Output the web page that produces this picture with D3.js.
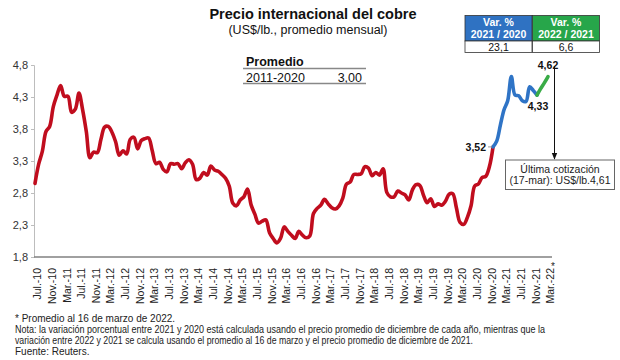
<!DOCTYPE html>
<html>
<head>
<meta charset="utf-8">
<script src="https://cdn.jsdelivr.net/npm/d3@7"></script>
<style>
  body { margin: 0; background: #fff; }
  svg { font-family: "Liberation Sans", Arial, sans-serif; }
</style>
</head>
<body>
<svg id="chart" width="620" height="360"></svg>
<script>
// monthly average copper price, Jul-10 .. Mar-22 (US$/lb)
const prices = [
  2.95, 3.25, 3.45, 3.76, 3.84, 4.15,                               // 2010 jul-dec
  4.33, 4.48, 4.31, 4.31, 4.06, 4.11, 4.36, 4.10, 3.76, 3.35, 3.44, 3.43, // 2011
  3.64, 3.83, 3.84, 3.75, 3.60, 3.39, 3.46, 3.41, 3.64, 3.67, 3.49, 3.62, // 2012
  3.65, 3.66, 3.46, 3.26, 3.28, 3.17, 3.13, 3.26, 3.25, 3.26, 3.18, 3.27, // 2013
  3.32, 3.25, 3.01, 3.03, 3.12, 3.08, 3.22, 3.16, 3.14, 3.09, 3.03, 2.91, // 2014
  2.64, 2.60, 2.69, 2.74, 2.86, 2.61, 2.47, 2.33, 2.36, 2.38, 2.18, 2.09, // 2015
  2.02, 2.09, 2.27, 2.20, 2.14, 2.09, 2.20, 2.14, 2.10, 2.13, 2.48, 2.56, // 2016
  2.61, 2.70, 2.63, 2.57, 2.55, 2.60, 2.72, 2.94, 2.97, 3.09, 3.09, 3.10, // 2017
  3.21, 3.19, 3.07, 3.12, 3.08, 3.18, 2.81, 2.74, 2.74, 2.83, 2.80, 2.77, // 2018
  2.69, 2.85, 2.93, 2.92, 2.77, 2.65, 2.71, 2.59, 2.63, 2.61, 2.67, 2.78, // 2019
  2.79, 2.57, 2.34, 2.31, 2.42, 2.60, 2.91, 2.94, 3.04, 3.06, 3.21, 3.52, // 2020
  3.61, 3.86, 4.10, 4.24, 4.62, 4.33, 4.32, 4.24, 4.23, 4.46, 4.40, 4.33, // 2021
  4.43, 4.52, 4.62                                                  // 2022 (mar = avg al 16)
];
const mesNames = ["Ene.","Feb.","Mar.","Abr.","May.","Jun.","Jul.","Ago.","Sep.","Oct.","Nov.","Dic."];
const months = prices.map((d, i) => {
  const m = (6 + i) % 12, y = 10 + Math.floor((6 + i) / 12);
  return mesNames[m] + "-" + y;
});
const tickLabels = ["Jul.-10","Nov.-10","Mar.-11","Jul.-11","Nov.-11","Mar.-12","Jul.-12","Nov.-12",
  "Mar.-13","Jul.-13","Nov.-13","Mar.-14","Jul.-14","Nov.-14","Mar.-15","Jul.-15","Nov.-15",
  "Mar.-16","Jul.-16","Nov.-16","Mar.-17","Jul.-17","Nov.-17","Mar.-18","Jul.-18","Nov.-18",
  "Mar.-19","Jul.-19","Nov.-19","Mar.-20","Jul.-20","Nov.-20","Mar.-21","Jul.-21","Nov.-21","Mar.-22"];
const yTicks = [1.8, 2.3, 2.8, 3.3, 3.8, 4.3, 4.8];
const segments = [
  {name: "hasta 2020", from: "Jul.-10", to: "Dic.-20", color: "#c00d1e"},
  {name: "2021", from: "Dic.-20", to: "Dic.-21", color: "#2f74c6"},
  {name: "2022", from: "Dic.-21", to: "Mar.-22", color: "#3aac47"}
];
const varHeaders = [["Var. %", "2021 / 2020"], ["Var. %", "2022 / 2021"]];
const varValues = ["23,1", "6,6"];
const varColors = ["#2f72c2", "#27a64a"];
const promedio = {periodo: "2011-2020", valor: "3,00"};
const notas = [
  "* Promedio al 16 de marzo de 2022.",
  "Nota: la variación porcentual entre 2021 y 2020 está calculada usando el precio promedio de diciembre de cada año, mientras que la",
  "variación entre 2022 y 2021 se calcula usando el promedio al 16 de marzo y el precio promedio de diciembre de 2021.",
  "Fuente: Reuters."
];

const svg = d3.select("#chart");
const fmt = v => d3.format(".2f")(v).replace(".", ",");

const x = d3.scalePoint().domain(months).range([35, 548]);
const y = d3.scaleLinear().domain([1.8, 4.8]).range([257, 65]);

// titles
svg.append("text").attr("x", 313).attr("y", 19).attr("text-anchor", "middle")
  .attr("font-size", 14.5).attr("font-weight", "bold").attr("fill", "#111")
  .text("Precio internacional del cobre");
svg.append("text").attr("x", 308).attr("y", 34).attr("text-anchor", "middle")
  .attr("font-size", 12.5).attr("fill", "#111")
  .text("(US$/lb., promedio mensual)");

// y axis
const yAxis = svg.append("g").attr("transform", "translate(34,0)")
  .call(d3.axisLeft(y).tickValues(yTicks).tickSize(3).tickFormat(d => d3.format(".1f")(d).replace(".", ",")));
yAxis.select(".domain").attr("stroke", "#bdbdbd");
yAxis.selectAll(".tick line").attr("stroke", "#bdbdbd");
yAxis.selectAll(".tick text").attr("font-size", 11).attr("fill", "#333").attr("x", -6)
  .attr("font-family", "Liberation Sans, Arial, sans-serif");

// x axis
const xAxis = svg.append("g").attr("transform", "translate(0,257)")
  .call(d3.axisBottom(x).tickValues(months.filter((m, i) => i % 4 === 0)).tickSize(0)
    .tickFormat((d, i) => tickLabels[i]));
xAxis.select(".domain").attr("stroke", "#808080").attr("stroke-width", 1.3)
  .attr("d", "M34,0H552");
xAxis.selectAll(".tick text")
  .attr("font-size", 10.5).attr("fill", "#222")
  .attr("font-family", "Liberation Sans, Arial, sans-serif")
  .attr("text-anchor", "end").attr("transform", "rotate(-90)")
  .attr("x", -11).attr("y", 2).attr("dy", "0.35em");
svg.append("text").attr("x", x("Mar.-22") + 3).attr("y", 270).attr("font-size", 10).attr("fill", "#222").text("*");

// lines
const line = d3.line().x(d => x(d.m)).y(d => y(d.v)).curve(d3.curveCatmullRom.alpha(0.5));
const pts = months.map((m, i) => ({m: m, v: prices[i]}));
segments.forEach(s => {
  const a = months.indexOf(s.from), b = months.indexOf(s.to);
  svg.append("path").datum(pts.slice(a, b + 1))
    .attr("d", line).attr("fill", "none").attr("stroke", s.color)
    .attr("stroke-width", 3.6).attr("stroke-linejoin", "round").attr("stroke-linecap", "round");
});

// point labels
const lbl = (m, dx, dy, anchor) => svg.append("text")
  .attr("x", x(m) + dx).attr("y", y(prices[months.indexOf(m)]) + dy)
  .attr("text-anchor", anchor).attr("font-size", 10.5).attr("font-weight", "bold").attr("fill", "#111")
  .text(fmt(prices[months.indexOf(m)]));
lbl("Dic.-20", -7, 4, "end");
svg.append("line").attr("x1", x("Dic.-20") - 5).attr("x2", x("Dic.-20") - 1)
  .attr("y1", y(3.52)).attr("y2", y(3.52)).attr("stroke", "#999");
lbl("Dic.-21", 1, 15, "middle");
lbl("Mar.-22", 0, -8, "middle");

// arrow + box
svg.append("defs").append("marker").attr("id", "arr").attr("viewBox", "0 0 10 10")
  .attr("refX", 9).attr("refY", 5).attr("markerWidth", 7).attr("markerHeight", 7).attr("orient", "auto")
  .append("path").attr("d", "M0,1L10,5L0,9Z").attr("fill", "#111");
svg.append("line").attr("x1", 554.5).attr("x2", 554.5).attr("y1", 66).attr("y2", 159)
  .attr("stroke", "#111").attr("stroke-width", 1).attr("marker-end", "url(#arr)");
svg.append("rect").attr("x", 505.5).attr("y", 160).attr("width", 109).attr("height", 29.5)
  .attr("fill", "#fff").attr("stroke", "#666").attr("stroke-width", 1);
svg.append("text").attr("x", 560).attr("y", 173).attr("text-anchor", "middle").attr("font-size", 10.5)
  .attr("fill", "#222").text("Última cotización");
svg.append("text").attr("x", 560).attr("y", 184).attr("text-anchor", "middle").attr("font-size", 10.5)
  .attr("fill", "#222").text("(17-mar): US$/lb.4,61");

// variation table
const tx = [465, 532.5], tw = 67;
varHeaders.forEach((h, i) => {
  svg.append("rect").attr("x", tx[i]).attr("y", 15.5).attr("width", tw).attr("height", 25.5)
    .attr("fill", varColors[i]).attr("stroke", "#333").attr("stroke-width", 0.8);
  svg.append("rect").attr("x", tx[i]).attr("y", 41).attr("width", tw).attr("height", 11.5)
    .attr("fill", "#fff").attr("stroke", "#333").attr("stroke-width", 0.8);
  h.forEach((t, j) => svg.append("text").attr("x", tx[i] + tw / 2).attr("y", 26 + j * 12)
    .attr("text-anchor", "middle").attr("font-size", 10.5).attr("font-weight", "bold")
    .attr("fill", "#fff").text(t));
  svg.append("text").attr("x", tx[i] + tw / 2).attr("y", 51).attr("text-anchor", "middle")
    .attr("font-size", 10.5).attr("fill", "#111").text(varValues[i]);
});

// promedio table
svg.append("text").attr("x", 246).attr("y", 66).attr("font-size", 12.5).attr("font-weight", "bold")
  .attr("fill", "#111").text("Promedio");
svg.append("line").attr("x1", 243).attr("x2", 366).attr("y1", 68.5).attr("y2", 68.5).attr("stroke", "#888").attr("stroke-width", 1.3);
svg.append("text").attr("x", 246).attr("y", 81.5).attr("font-size", 12.5).attr("fill", "#111").text(promedio.periodo);
svg.append("text").attr("x", 362).attr("y", 81.5).attr("text-anchor", "end").attr("font-size", 12.5).attr("fill", "#111").text(promedio.valor);
svg.append("line").attr("x1", 243).attr("x2", 366).attr("y1", 83.5).attr("y2", 83.5).attr("stroke", "#888").attr("stroke-width", 1.3);

// footnotes
const noteLen = [null, 530, 458, null];
notas.forEach((t, i) => {
  const n = svg.append("text").attr("x", 15).attr("y", 322 + i * 11).attr("font-size", 10)
    .attr("fill", "#222").text(t);
  if (noteLen[i]) n.attr("textLength", noteLen[i]).attr("lengthAdjust", "spacingAndGlyphs");
});
</script>
</body>
</html>
